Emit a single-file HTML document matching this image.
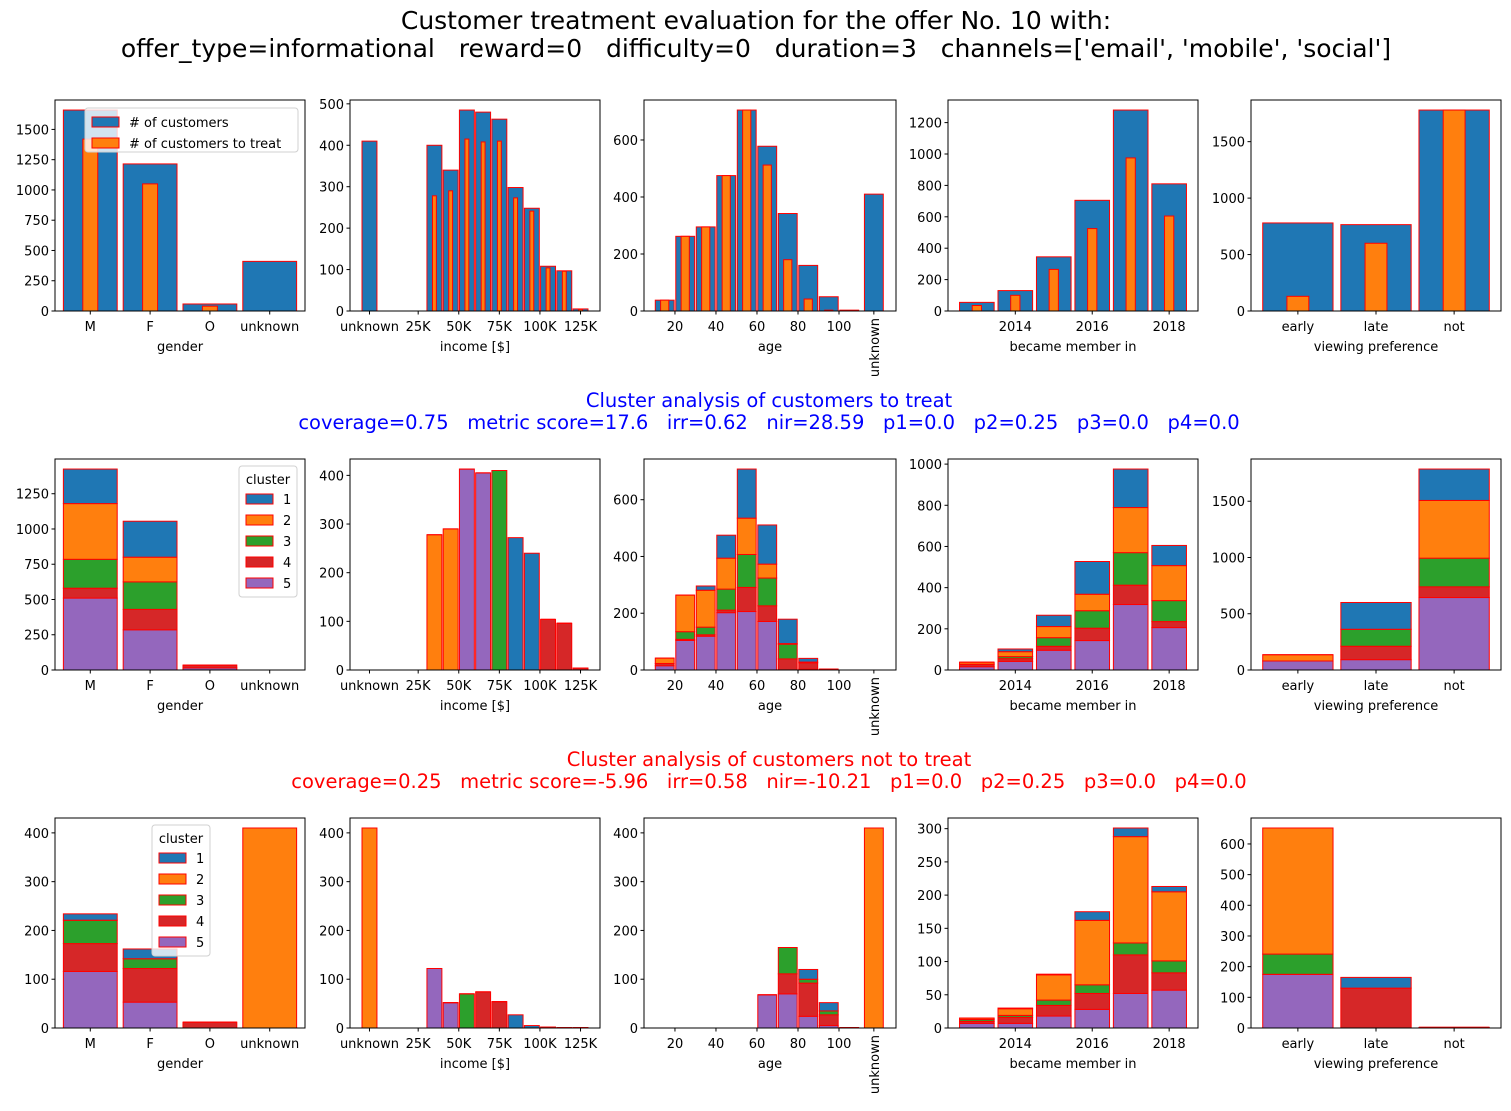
<!DOCTYPE html>
<html><head><meta charset="utf-8"><style>
body{margin:0;background:#fff;}
svg{display:block;font-family:"DejaVu Sans","Liberation Sans",sans-serif;}
</style></head><body>
<svg id="fig" width="1511" height="1111" viewBox="0 0 1511 1111" xmlns="http://www.w3.org/2000/svg">
<rect width="1511" height="1111" fill="#fff"/>
<text x="756" y="29" font-size="25" text-anchor="middle">Customer treatment evaluation for the offer No. 10 with:</text>
<text x="756" y="57" font-size="25" text-anchor="middle" xml:space="preserve">offer_type=informational   reward=0   difficulty=0   duration=3   channels=['email', 'mobile', 'social']</text>
<text x="769" y="407" font-size="19.5" fill="#0000ff" text-anchor="middle">Cluster analysis of customers to treat</text>
<text x="769" y="429" font-size="19.5" fill="#0000ff" text-anchor="middle" xml:space="preserve">coverage=0.75   metric score=17.6   irr=0.62   nir=28.59   p1=0.0   p2=0.25   p3=0.0   p4=0.0</text>
<text x="769" y="766" font-size="19.5" fill="#ff0000" text-anchor="middle">Cluster analysis of customers not to treat</text>
<text x="769" y="788" font-size="19.5" fill="#ff0000" text-anchor="middle" xml:space="preserve">coverage=0.25   metric score=-5.96   irr=0.58   nir=-10.21   p1=0.0   p2=0.25   p3=0.0   p4=0.0</text>
<g id="plots"></g>
</svg>
<script>
// ---- categories ----
const genderCats = ['M','F','O','unknown'];
const incomePos = [-5,5,15,25,35,45,55,65,75,85,95,105,115,125];
const agePos = [15,25,35,45,55,65,75,85,95,105,117];
const yearPos = [2013,2014,2015,2016,2017,2018];
const viewCats = ['early','late','not'];
// ---- row 1: all customers / to treat ----
const genderAll = [1660,1215,58,410];
const genderTreat = [1420,1050,40,0];
const incomeAll = [410,0,0,0,400,340,485,480,463,298,248,108,97,5];
const incomeTreat = [0,0,0,0,278,290,415,408,410,273,241,104,96,4];
const ageAll = [38,262,295,475,705,578,342,160,50,3,410];
const ageTreat = [38,262,295,475,705,512,180,42,3,0,0];
const yearAll = [55,130,345,705,1280,810];
const yearTreat = [35,100,265,525,975,605];
const viewAll = [780,765,1780];
const viewTreat = [130,600,1780];
// ---- row 2: clusters of customers to treat (cluster 5,4,3,2,1) ----
const t_gender = [[510,285,15,0],[70,145,20,0],[205,195,0,0],[395,175,0,0],[245,255,0,0]];
const t_income = [
 [0,0,0,0,0,0,413,405,0,0,0,0,0,0],
 [0,0,0,0,0,0,0,0,0,0,0,104,96,4],
 [0,0,0,0,0,0,0,0,410,0,0,0,0,0],
 [0,0,0,0,278,290,0,0,0,0,0,0,0,0],
 [0,0,0,0,0,0,0,0,0,272,240,0,0,0]];
const t_age = [
 [15,104,119,202,206,171,0,3,0,0,0],
 [8,4,5,9,85,55,39,22,3,0,0],
 [0,27,27,74,116,98,52,3,0,0,0],
 [19,129,130,109,128,49,2,0,0,0,0],
 [0,0,15,81,173,138,86,13,0,0,0]];
const t_year = [[16,42,96,143,318,206],[12,13,19,60,94,29],[0,10,42,85,158,102],[10,24,54,80,219,170],[0,13,55,159,187,98]];
const t_view = [[80,92,644],[0,119,95],[0,151,255],[56,0,513],[0,238,279]];
// ---- row 3: clusters of customers not to treat ----
const n_gender = [[116,53,0,0],[57,69,12,0],[48,20,0,0],[0,0,0,410],[13,20,0,0]];
const n_income = [
 [0,0,0,0,122,52,0,0,0,0,0,0,0,0],
 [0,0,0,0,0,0,0,74,54,0,0,0,0,0],
 [0,0,0,0,0,0,70,0,0,0,0,0,0,0],
 [410,0,0,0,0,0,0,0,0,0,0,0,0,0],
 [0,0,0,0,0,0,0,0,0,27,5,2,1,1]];
const n_age = [
 [0,0,0,0,0,68,70,24,5,1,0],
 [0,0,0,0,0,0,41,68,22,0,0],
 [0,0,0,0,0,0,54,8,8,0,0],
 [0,0,0,0,0,0,0,0,0,0,410],
 [0,0,0,0,0,0,0,20,17,0,0]];
const n_year = [[7,7,18,28,52,57],[3,9,16,24,58,26],[3,3,8,13,18,18],[2,10,38,97,160,104],[0,1,1,13,13,8]];
const n_view = [[175,0,0],[0,130,2],[66,0,0],[411,0,0],[0,35,0]];

const CL = ['#9467bd','#d62728','#2ca02c','#ff7f0e','#1f77b4']; // clusters 5..1 bottom-up
const NS='http://www.w3.org/2000/svg';
const root=document.getElementById('plots');
function mk(tag,attrs,parent){const e=document.createElementNS(NS,tag);for(const k in attrs)e.setAttribute(k,attrs[k]);(parent||root).appendChild(e);return e;}
const cols=[[55,305],[350,600],[644,896],[948,1198],[1251,1501]];
const rows=[[100,311],[459,670],[818,1028]];

function panel(name,c,r,pos,xlim,bw,stacks,overlay,ystep,xticks,xlabels,xtitle,rotUnknown){
  const [x0,x1]=cols[c],[y0,y1]=rows[r];
  const g=mk('g',{});
  
  
  const n=pos.length;let mx=0;
  for(let i=0;i<n;i++){let s=0;stacks.forEach(st=>s+=st.vals[i]);mx=Math.max(mx,s);}
  const ymax=mx*1.05;
  const X=v=>x0+(v-xlim[0])/(xlim[1]-xlim[0])*(x1-x0);
  const Y=v=>y1-v/ymax*(y1-y0);
  for(let i=0;i<n;i++){
    let base=0;
    stacks.forEach((st,k)=>{
      const v=st.vals[i];const xa=X(pos[i]-bw/2),xb=X(pos[i]+bw/2);
      if(v>0){
        const rc=mk('rect',{x:xa,y:Y(base+v),width:xb-xa,height:Y(base)-Y(base+v),fill:st.color,stroke:'#ff0000','stroke-width':1},g);
        
        
      } else {
        const ln=mk('line',{x1:xa,x2:xb,y1:Y(base),y2:Y(base),stroke:'#ff0000','stroke-width':1},g);
        
        
      }
      base+=v;
    });
    if(overlay){
      const v=overlay.vals[i];const xa=X(pos[i]-overlay.w/2),xb=X(pos[i]+overlay.w/2);
      if(v>0){
        const rc=mk('rect',{x:xa,y:Y(v),width:xb-xa,height:Y(0)-Y(v),fill:'#ff7f0e',stroke:'#ff0000','stroke-width':1},g);
        
        
      }
    }
  }
  const fr=mk('rect',{x:x0,y:y0,width:x1-x0,height:y1-y0,fill:'none',stroke:'#000','stroke-width':1},g);
  
  
  for(let t=0;t<=ymax;t+=ystep){
    const y=Y(t);
    mk('line',{x1:x0-3.5,x2:x0,y1:y,y2:y,stroke:'#000'},g);
    const tx=mk('text',{x:x0-6,y:y+5,'font-size':13,'text-anchor':'end'},g);tx.textContent=t;
    
    
  }
  xticks.forEach((t,i)=>{
    const x=X(t);
    mk('line',{x1:x,x2:x,y1:y1,y2:y1+3.5,stroke:'#000'},g);
    const tx=mk('text',{x:x,y:y1+20,'font-size':13,'text-anchor':'middle'},g);tx.textContent=xlabels[i];
    
    
  });
  if(rotUnknown!==undefined){
    const x=X(rotUnknown);
    mk('line',{x1:x,x2:x,y1:y1,y2:y1+3.5,stroke:'#000'},g);
    const tx=mk('text',{x:0,y:0,'font-size':13,'text-anchor':'end',transform:`translate(${x+5},${y1+7}) rotate(-90)`},g);tx.textContent='unknown';
    
    
  }
  const xl=mk('text',{x:(x0+x1)/2,y:y1+40,'font-size':13,'text-anchor':'middle'},g);xl.textContent=xtitle;
  
  
}
const gx=[0,1,2,3],vx=[0,1,2];
const incT=[-5,25,50,75,100,125],incL=['unknown','25K','50K','75K','100K','125K'];
const ageT=[20,40,60,80,100],ageL=['20','40','60','80','100'];
const yrT=[2014,2016,2018],yrL=['2014','2016','2018'];
function cl(arrs){return arrs.map((a,k)=>({vals:a,color:CL[k],label:'cluster'+(5-k)}));}
// row 1
panel('gender-all',0,0,gx,[-0.59,3.59],0.9,[{vals:genderAll,color:'#1f77b4',label:'customers'}],{vals:genderTreat,w:0.25},250,gx,genderCats,'gender');
panel('income-all',1,0,incomePos,[-17,137],9.2,[{vals:incomeAll,color:'#1f77b4',label:'customers'}],{vals:incomeTreat,w:2.4},100,incT,incL,'income [$]');
panel('age-all',2,0,agePos,[4.9,127.8],9.2,[{vals:ageAll,color:'#1f77b4',label:'customers'}],{vals:ageTreat,w:4},200,ageT,ageL,'age',117);
panel('year-all',3,0,yearPos,[2012.25,2018.75],0.9,[{vals:yearAll,color:'#1f77b4',label:'customers'}],{vals:yearTreat,w:0.24},200,yrT,yrL,'became member in');
panel('view-all',4,0,vx,[-0.6,2.6],0.9,[{vals:viewAll,color:'#1f77b4',label:'customers'}],{vals:viewTreat,w:0.28},500,vx,viewCats,'viewing preference');
// row 2
panel('gender-treat',0,1,gx,[-0.59,3.59],0.9,cl(t_gender),null,250,gx,genderCats,'gender');
panel('income-treat',1,1,incomePos,[-17,137],9.2,cl(t_income),null,100,incT,incL,'income [$]');
panel('age-treat',2,1,agePos,[4.9,127.8],9.2,cl(t_age),null,200,ageT,ageL,'age',117);
panel('year-treat',3,1,yearPos,[2012.25,2018.75],0.9,cl(t_year),null,200,yrT,yrL,'became member in');
panel('view-treat',4,1,vx,[-0.6,2.6],0.9,cl(t_view),null,500,vx,viewCats,'viewing preference');
// row 3
panel('gender-not-treat',0,2,gx,[-0.59,3.59],0.9,cl(n_gender),null,100,gx,genderCats,'gender');
panel('income-not-treat',1,2,incomePos,[-17,137],9.2,cl(n_income),null,100,incT,incL,'income [$]');
panel('age-not-treat',2,2,agePos,[4.9,127.8],9.2,cl(n_age),null,100,ageT,ageL,'age',117);
panel('year-not-treat',3,2,yearPos,[2012.25,2018.75],0.9,cl(n_year),null,50,yrT,yrL,'became member in');
panel('view-not-treat',4,2,vx,[-0.6,2.6],0.9,cl(n_view),null,100,vx,viewCats,'viewing preference');

// legends
function legendBox(name,x,y,w,h,title,entries){
  const g=mk('g',{});
  
  
  mk('rect',{x:x,y:y,width:w,height:h,rx:3,fill:'#fff','fill-opacity':0.8,stroke:'#d0d0d0'},g);
  let yy=y+8;
  if(title){const t=mk('text',{x:x+w/2,y:y+18,'font-size':13,'text-anchor':'middle'},g);t.textContent=title;yy=y+27;}
  entries.forEach(e=>{
    mk('rect',{x:x+7,y:yy+1,width:27,height:10,fill:e.c,stroke:'#ff0000'},g);
    const t=mk('text',{x:x+44,y:yy+11,'font-size':13},g);t.textContent=e.t;
    yy+=21;
  });
}
legendBox('legend-row1',85,108,213,44,null,[{c:'#1f77b4',t:'# of customers'},{c:'#ff7f0e',t:'# of customers to treat'}]);
const clEntries=[{c:'#1f77b4',t:'1'},{c:'#ff7f0e',t:'2'},{c:'#2ca02c',t:'3'},{c:'#d62728',t:'4'},{c:'#9467bd',t:'5'}];
legendBox('legend-cluster-treat',239,466,58,131,'cluster',clEntries);
legendBox('legend-cluster-not-treat',152,825,58,131,'cluster',clEntries);
</script>
</body></html>
